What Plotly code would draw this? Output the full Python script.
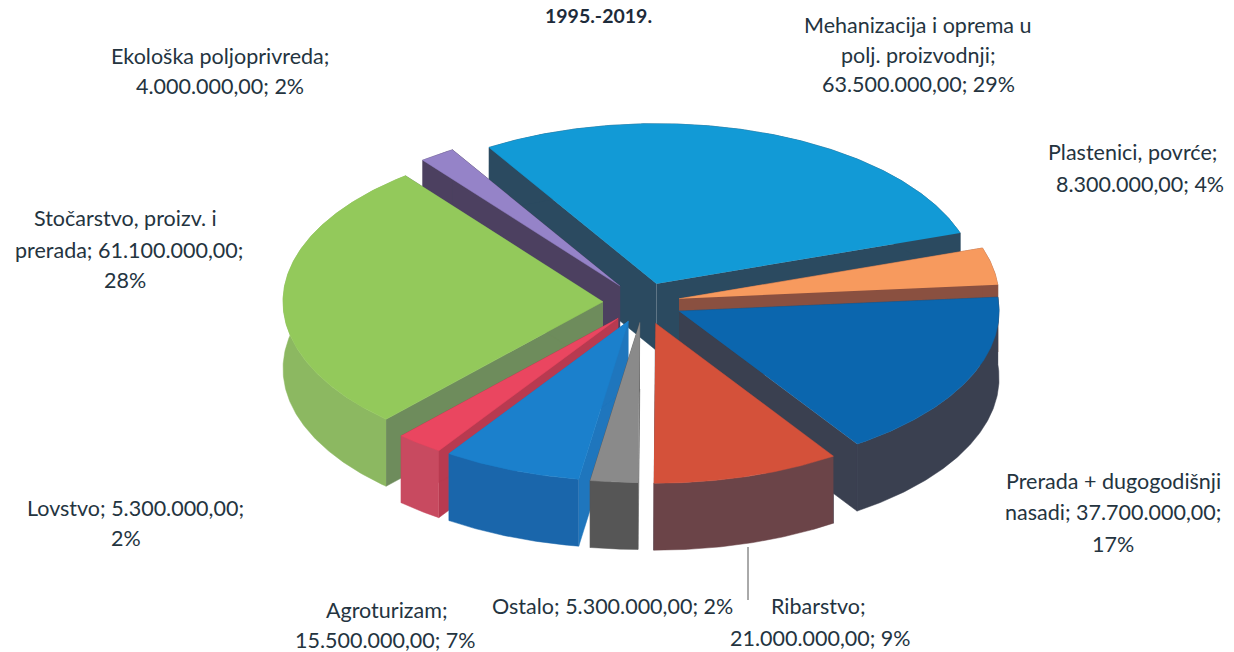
import numpy as np
import plotly.graph_objects as go

# ---- data (draw order, back to front, is set separately below) ----
categories = ["Mehanizacija i oprema u polj. proizvodnji", "Plastenici, povrće",
              "Prerada + dugogodišnji nasadi", "Ribarstvo", "Ostalo", "Agroturizam",
              "Lovstvo", "Stočarstvo, proizv. i prerada", "Ekološka poljoprivreda"]
values = [63500000, 8300000, 37700000, 21000000, 5300000, 15500000, 5300000, 61100000, 4000000]
pulls = [0.125, 0.115, 0.125, 0.135, 0.125, 0.125, 0.125, 0.125, 0.125]
top_colors = ["#129ad6", "#f79a5e", "#0b66ae", "#d4513a", "#8a8a8a", "#1b80cc", "#ea4660", "#93c95b", "#9583c8"]
wall_colors = ["#2b4a60", "#8a5040", "#3a4050", "#6b4448", "#565656", "#1a66ab", "#c84a60", "#8cb861", "#4c4060"]
face_colors = ["#2b4a60", "#8a5040", "#3a4050", "#3a4050", "#565656", "#1f76bd", "#b83a50", "#6e8c5c", "#4c4060"]
draw_order = [0, 8, 7, 1, 2, 6, 5, 4, 3]

# ---- text ----
title_text = "1995.-2019."
label_lines = ["Mehanizacija i oprema u", "polj. proizvodnji;", "63.500.000,00; 29%",
               "Ekološka poljoprivreda;", "4.000.000,00; 2%",
               "Plastenici, povrće;", "8.300.000,00; 4%",
               "Stočarstvo, proizv. i", "prerada; 61.100.000,00;", "28%",
               "Prerada + dugogodišnji", "nasadi; 37.700.000,00;", "17%",
               "Lovstvo; 5.300.000,00;", "2%",
               "Agroturizam;", "15.500.000,00; 7%",
               "Ostalo; 5.300.000,00; 2%",
               "Ribarstvo;", "21.000.000,00; 9%"]
label_x = [918, 918, 918, 220, 220, 1132, 1140, 125, 129, 125, 1113, 1113, 1113, 135, 126, 387, 385, 612, 818, 820]
label_y = [25, 55, 84, 56, 86, 152, 184, 218, 250, 280, 481, 512, 544, 508, 538, 610, 640, 606, 606, 638]

# ---- projection of the exploded, tilted pie ----
CX, CY = 643, 302.5
RX, RY = 320, 160
DEPTH = 67
START = -31.6

total = sum(values)
spans = [v / total * 360 for v in values]
starts = START + np.concatenate([[0], np.cumsum(spans)[:-1]])

fig = go.Figure()


def add_poly(x, y, color, name):
    fig.add_trace(go.Scatter(x=list(x), y=list(y), mode="lines", fill="toself",
                             fillcolor=color, line=dict(color=color, width=0.5),
                             name=name, hoverinfo="name", showlegend=False))


for i in draw_order:
    a0, a1 = starts[i], starts[i] + spans[i]
    mid = np.radians((a0 + a1) / 2)
    tx = CX + pulls[i] * RX * np.sin(mid)
    ty = CY - pulls[i] * RY * np.cos(mid)
    th = np.radians(np.linspace(a0, a1, max(int(spans[i] * 2), 6)))
    ax = tx + RX * np.sin(th)
    ay = ty - RY * np.cos(th)
    # radial faces
    for ex, ey in ((ax[0], ay[0]), (ax[-1], ay[-1])):
        add_poly([tx, ex, ex, tx], [ty, ey, ey + DEPTH, ty + DEPTH], face_colors[i], categories[i])
    # outer wall
    add_poly(np.r_[ax, ax[::-1]], np.r_[ay, ay[::-1] + DEPTH], wall_colors[i], categories[i])
    # top
    add_poly(np.r_[tx, ax], np.r_[ty, ay], top_colors[i], categories[i])

annotations = [dict(x=x, y=y, text=t, showarrow=False, xanchor="center", yanchor="middle",
                    font=dict(family="Lato", size=21.5, color="#24343f"))
               for t, x, y in zip(label_lines, label_x, label_y)]
annotations.append(dict(x=598, y=15, text=f"<b>{title_text}</b>", showarrow=False,
                        font=dict(family="Lato", size=19.5, color="#1d2b3a")))

fig.update_layout(
    width=1234, height=652, margin=dict(l=0, r=0, t=0, b=0),
    paper_bgcolor="white", plot_bgcolor="white", showlegend=False,
    xaxis=dict(range=[0, 1234], visible=False, fixedrange=True),
    yaxis=dict(range=[652, 0], visible=False, fixedrange=True),
    annotations=annotations,
    shapes=[dict(type="line", x0=748, x1=748, y0=547, y1=600,
                 line=dict(color="#555555", width=1))],
)
fig.write_html("out.html", config={"displayModeBar": False},
               post_script="document.documentElement.style.margin='0';document.body.style.margin='0';document.body.style.overflow='hidden';")
